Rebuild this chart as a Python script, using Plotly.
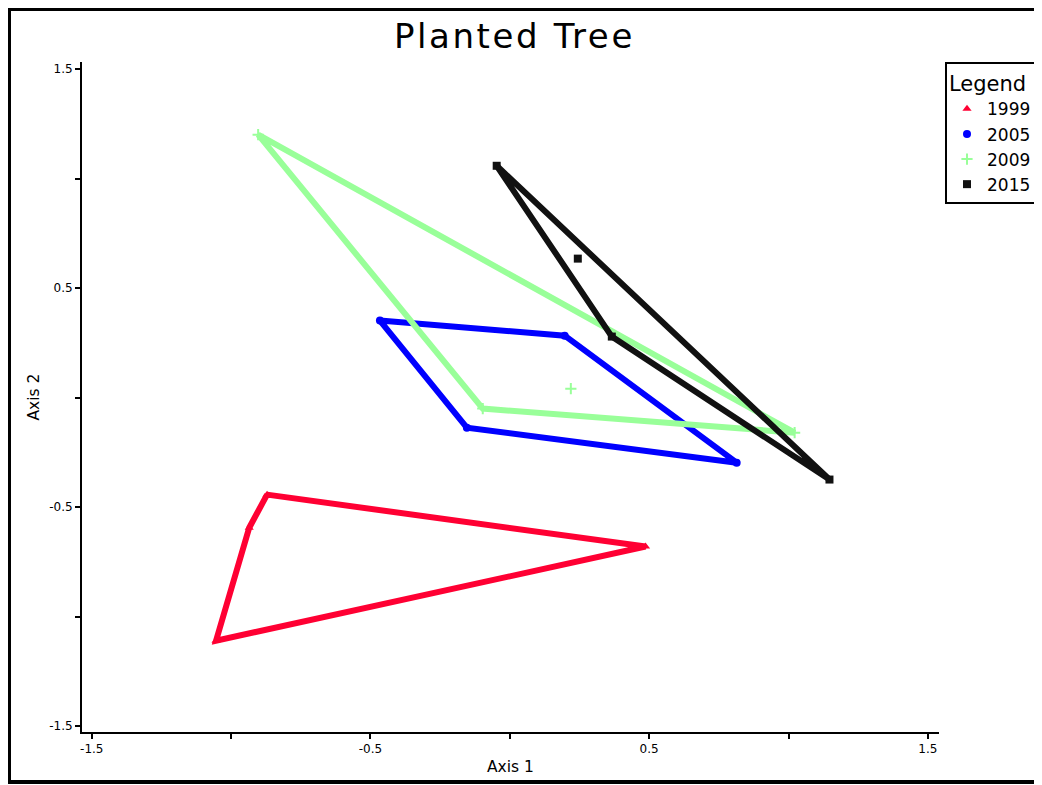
import plotly.graph_objects as go

# ---- data ----
years = ["1999", "2005", "2009", "2015"]
colors = ["#ff0033", "#0000ff", "#99ff99", "#111111"]
symbols = ["triangle-up", "circle", "cross-thin", "square"]

# site scores per year (Axis 1, Axis 2)
x_1999 = [-0.871, -0.935, -1.054, 0.487]
y_1999 = [-0.443, -0.594, -1.110, -0.680]
x_2005 = [-0.466, 0.197, 0.814, -0.154]
y_2005 = [0.352, 0.283, -0.297, -0.137]
x_2009 = [-0.903, 1.022, -0.097, 0.219]
y_2009 = [1.201, -0.160, -0.050, 0.041]
x_2015 = [-0.047, 1.147, 0.366, 0.244]
y_2015 = [1.059, -0.374, 0.279, 0.635]

# convex hull order (indices into the point lists), closed
hull_1999 = [0, 1, 2, 3, 0]
hull_2005 = [0, 1, 2, 3, 0]
hull_2009 = [0, 1, 2, 0]
hull_2015 = [0, 1, 2, 0]

tick_vals = [-1.5, -1.0, -0.5, 0.0, 0.5, 1.0, 1.5]
tick_text = ["-1.5", "", "-0.5", "", "0.5", "", "1.5"]

title_text = "Planted Tree"
x_title = "Axis 1"
y_title = "Axis 2"
legend_title = "Legend"

FONT = "DejaVu Sans, Liberation Sans, Arial, sans-serif"

# page is drawn with an 8px body margin: layout pixel values below are
# given in figure coordinates (reference pixel - 8)
W, H = 1042, 785
PL, PT, PR, PB = 74, 54, 931, 724   # plot area edges in figure px

xs = [x_1999, x_2005, x_2009, x_2015]
ys = [y_1999, y_2005, y_2009, y_2015]
hulls = [hull_1999, hull_2005, hull_2009, hull_2015]

fig = go.Figure()
for yr, c, s, xv, yv, h in zip(years, colors, symbols, xs, ys, hulls):
    fig.add_trace(go.Scatter(
        x=[xv[i] for i in h], y=[yv[i] for i in h],
        mode="lines", line=dict(color=c, width=6),
        showlegend=False, hoverinfo="skip",
    ))
    fig.add_trace(go.Scatter(
        x=xv, y=yv, mode="markers", name=yr,
        marker=dict(color=c, symbol=s, size=8,
                    line=dict(color=c, width=2 if s == "cross-thin" else 0)),
    ))

axis_common = dict(
    showline=True, linecolor="black", linewidth=2,
    ticks="outside", ticklen=5, tickwidth=2, tickcolor="black",
    showgrid=False, zeroline=False,
    tickmode="array", tickvals=tick_vals, ticktext=tick_text,
    tickfont=dict(family=FONT, size=12, color="black"),
    mirror=False,
)

pw, ph = PR - PL, PB - PT


def px_x(v):
    return (v - PL) / pw


def px_y(v):
    return (PB - v) / ph


frame = dict(type="line", xref="paper", yref="paper",
             line=dict(color="black", width=4), layer="above")

fig.update_layout(
    width=W, height=H,
    paper_bgcolor="white", plot_bgcolor="white",
    margin=dict(l=PL, r=W - PR, t=PT, b=H - PB, autoexpand=False),
    title=dict(text='<span style="letter-spacing:2.6px">' + title_text + "</span>",
               x=506.4 / W, xanchor="center",
               y=1 - 28.5 / H, yanchor="middle",
               font=dict(family=FONT, size=34, color="black")),
    xaxis=dict(range=[-1.535, 1.540],
               title=dict(text=x_title, standoff=6,
                          font=dict(family=FONT, size=15.5, color="black")),
               **axis_common),
    yaxis=dict(range=[-1.527, 1.533],
               title=dict(text=y_title, standoff=6,
                          font=dict(family=FONT, size=15.5, color="black")),
               **axis_common),
    legend=dict(
        x=px_x(937), xanchor="left", y=1.0, yanchor="top",
        bordercolor="black", borderwidth=2, bgcolor="white",
        font=dict(family=FONT, size=17, color="black"),
        title=dict(text=legend_title, font=dict(family=FONT, size=21, color="black")),
        itemwidth=30, tracegroupgap=0,
    ),
    shapes=[
        dict(frame, x0=px_x(1.0), x1=px_x(1.0), y0=px_y(776), y1=px_y(-1)),
        dict(frame, x0=px_x(-1), x1=px_x(1060), y0=px_y(1.0), y1=px_y(1.0)),
        dict(frame, x0=px_x(-1), x1=px_x(1060), y0=px_y(774), y1=px_y(774)),
    ],
)

fig.write_html("out.html")
